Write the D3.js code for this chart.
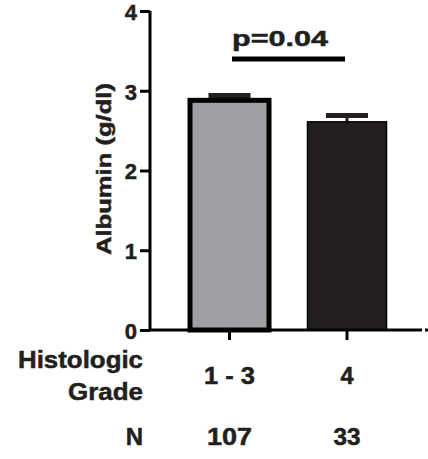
<!DOCTYPE html>
<html>
<head>
<meta charset="utf-8">
<script src="https://cdn.jsdelivr.net/npm/d3@7"></script>
<style>
  html, body { margin: 0; padding: 0; background: #fff; }
  svg { display: block; font-family: "Liberation Sans", Arial, sans-serif; font-weight: bold; }
  text { stroke: #231f20; stroke-width: 0.5px; }
</style>
</head>
<body>
<div id="chart"></div>
<script>
// Albumin by histologic grade: mean ± SEM
const categories = ["1 - 3", "4"];
const means = [2.88, 2.61];
const sems = [0.06, 0.08];
const counts = ["107", "33"];
const fills = ["#a0a0a4", "#231f20"];
const yTicks = [0, 1, 2, 3, 4];
const pLabel = "p=0.04";

const W = 428, H = 459;
const svg = d3.select("#chart").append("svg").attr("width", W).attr("height", H);

const y = d3.scaleLinear().domain([0, 4]).range([330, 11]);
const x = d3.scaleLinear().domain([0, 1]).range([229.5, 347]);
const barW = 79;

// bold label helper; width stretches glyphs to the wide face used on this figure
function label(g, txt, px, py, size, anchor, width) {
  const t = g.append("text").attr("x", px).attr("y", py)
    .attr("text-anchor", anchor).style("font-size", size + "px").attr("fill", "#231f20").text(txt);
  if (width) t.attr("textLength", width).attr("lengthAdjust", "spacingAndGlyphs");
  return t;
}

// y axis
const yAxis = d3.axisLeft(y).tickValues(yTicks).tickSize(10).tickPadding(3).tickFormat(d3.format("d"));
const gy = svg.append("g").attr("transform", "translate(150,0)").call(yAxis);
gy.select(".domain").attr("stroke", "#000").attr("stroke-width", 3).attr("d", `M0,${y(4)}V${y(0)}`);
gy.selectAll(".tick line").attr("stroke", "#000").attr("stroke-width", 3);
gy.selectAll(".tick text").attr("fill", "#231f20").style("font-size", "22px").style("font-weight", "bold")
  .style("font-family", "'Liberation Sans', Arial, sans-serif").attr("dy", "0.38em");

const yl = svg.append("g").attr("transform", "translate(111,169) rotate(-90)");
label(yl, "Albumin (g/dl)", 0, 0, 20.5, "middle", 172);

// bars
const bars = svg.append("g");
categories.forEach((c, i) => {
  const cx = x(i);
  const top = y(means[i]);
  // error bar (upper only)
  const eTop = y(means[i] + sems[i]);
  bars.append("line").attr("x1", cx).attr("x2", cx).attr("y1", top).attr("y2", eTop)
    .attr("stroke", "#231f20").attr("stroke-width", 3);
  bars.append("line").attr("x1", cx - 21).attr("x2", cx + 21).attr("y1", eTop).attr("y2", eTop)
    .attr("stroke", "#231f20").attr("stroke-width", 5);
  const sw = i === 0 ? 5 : 1.5;
  bars.append("rect")
    .attr("x", cx - barW / 2).attr("width", barW)
    .attr("y", top).attr("height", y(0) - top)
    .attr("fill", fills[i])
    .attr("stroke", "#000").attr("stroke-width", sw);
});

// x axis
svg.append("line").attr("x1", 150).attr("x2", 422).attr("y1", y(0)).attr("y2", y(0))
  .attr("stroke", "#000").attr("stroke-width", 3);
svg.append("rect").attr("x", 425).attr("y", y(0) - 1.5).attr("width", 3).attr("height", 3).attr("fill", "#000");
const catW = [51, null];
const cntW = [45, 27];
categories.forEach((c, i) => {
  svg.append("line").attr("x1", x(i)).attr("x2", x(i)).attr("y1", y(0)).attr("y2", y(0) + 10)
    .attr("stroke", "#000").attr("stroke-width", 3);
  label(svg, c, x(i), 384, 23.5, "middle", catW[i]);
  label(svg, counts[i], x(i), 445, 23.5, "middle", cntW[i]);
});

// row labels
label(svg, "Histologic", 143, 368, 24, "end", 125);
label(svg, "Grade", 143, 400, 24, "end", 75);
label(svg, "N", 143, 445, 24, "end");

// significance bar
svg.append("line").attr("x1", 232).attr("x2", 345).attr("y1", 59).attr("y2", 59)
  .attr("stroke", "#000").attr("stroke-width", 5);
label(svg, pLabel, 280, 46, 22, "middle", 96);
</script>
</body>
</html>
